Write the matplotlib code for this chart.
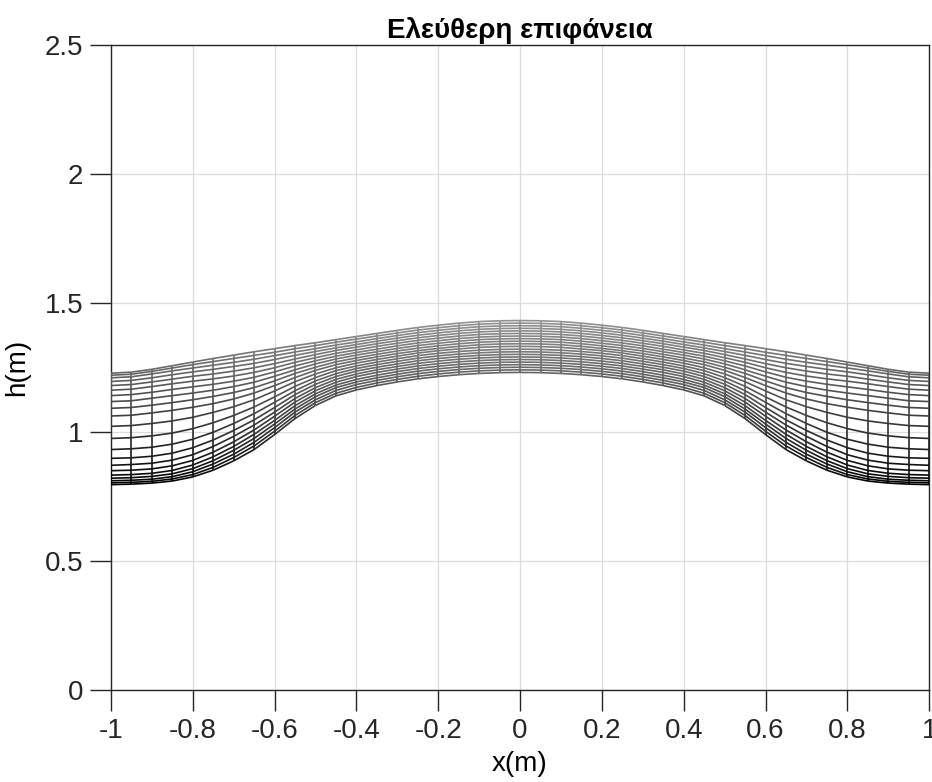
import numpy as np
import matplotlib
matplotlib.use("Agg")
import matplotlib.pyplot as plt
from matplotlib.collections import LineCollection

plt.rcParams['font.family'] = ['Liberation Sans Narrow', 'Liberation Sans', 'DejaVu Sans']
plt.rcParams['axes.unicode_minus'] = False

# x positions of the mesh columns (left half, picture is symmetric about x=0)
x_half = [-1.00, -0.95, -0.90, -0.85, -0.80, -0.75, -0.70, -0.65, -0.60, -0.55, -0.50,
          -0.45, -0.40, -0.35, -0.30, -0.25, -0.20, -0.15, -0.10, -0.05, 0.00]

# h(m) of the 21 time levels (bottom -> top) at every column of x_half
h_half = [
    [0.796, 0.803, 0.811, 0.821, 0.833, 0.850, 0.871, 0.898, 0.932, 0.975, 1.022, 1.062, 1.092, 1.118, 1.141, 1.162, 1.180, 1.196, 1.210, 1.220, 1.228],
    [0.798, 0.805, 0.813, 0.823, 0.835, 0.852, 0.874, 0.900, 0.935, 0.978, 1.025, 1.065, 1.095, 1.121, 1.145, 1.166, 1.184, 1.200, 1.214, 1.224, 1.232],
    [0.802, 0.809, 0.817, 0.828, 0.840, 0.857, 0.879, 0.906, 0.941, 0.985, 1.033, 1.074, 1.104, 1.131, 1.154, 1.176, 1.194, 1.210, 1.225, 1.235, 1.243],
    [0.810, 0.818, 0.827, 0.838, 0.851, 0.869, 0.891, 0.918, 0.953, 0.996, 1.043, 1.084, 1.114, 1.141, 1.165, 1.187, 1.205, 1.222, 1.237, 1.248, 1.257],
    [0.826, 0.835, 0.846, 0.858, 0.872, 0.890, 0.912, 0.939, 0.972, 1.013, 1.057, 1.096, 1.125, 1.151, 1.175, 1.197, 1.216, 1.233, 1.248, 1.261, 1.271],
    [0.852, 0.863, 0.876, 0.889, 0.904, 0.922, 0.944, 0.969, 0.999, 1.036, 1.076, 1.110, 1.138, 1.162, 1.185, 1.206, 1.225, 1.243, 1.259, 1.273, 1.285],
    [0.888, 0.901, 0.914, 0.929, 0.944, 0.962, 0.983, 1.006, 1.033, 1.064, 1.098, 1.128, 1.153, 1.176, 1.197, 1.217, 1.236, 1.254, 1.270, 1.285, 1.298],
    [0.932, 0.946, 0.960, 0.975, 0.991, 1.008, 1.027, 1.047, 1.071, 1.097, 1.125, 1.151, 1.172, 1.193, 1.212, 1.231, 1.249, 1.266, 1.282, 1.297, 1.311],
    [0.990, 1.003, 1.017, 1.031, 1.045, 1.061, 1.077, 1.095, 1.115, 1.136, 1.159, 1.180, 1.198, 1.216, 1.233, 1.249, 1.265, 1.281, 1.296, 1.309, 1.323],
    [1.052, 1.064, 1.077, 1.089, 1.102, 1.116, 1.130, 1.145, 1.160, 1.177, 1.195, 1.211, 1.227, 1.241, 1.256, 1.270, 1.283, 1.297, 1.310, 1.323, 1.335],
    [1.103, 1.114, 1.125, 1.137, 1.148, 1.160, 1.172, 1.185, 1.198, 1.211, 1.225, 1.239, 1.251, 1.264, 1.276, 1.288, 1.300, 1.312, 1.323, 1.335, 1.346],
    [1.140, 1.150, 1.161, 1.172, 1.182, 1.193, 1.204, 1.215, 1.226, 1.238, 1.249, 1.261, 1.272, 1.283, 1.294, 1.305, 1.316, 1.326, 1.337, 1.348, 1.358],
    [1.163, 1.173, 1.184, 1.194, 1.204, 1.215, 1.225, 1.236, 1.246, 1.256, 1.267, 1.277, 1.287, 1.298, 1.308, 1.318, 1.329, 1.339, 1.349, 1.360, 1.370],
    [1.180, 1.190, 1.200, 1.210, 1.220, 1.231, 1.241, 1.251, 1.261, 1.271, 1.281, 1.291, 1.301, 1.311, 1.321, 1.332, 1.342, 1.352, 1.362, 1.372, 1.382],
    [1.194, 1.204, 1.214, 1.224, 1.234, 1.244, 1.254, 1.264, 1.274, 1.284, 1.294, 1.304, 1.314, 1.324, 1.334, 1.344, 1.354, 1.364, 1.374, 1.384, 1.394],
    [1.206, 1.216, 1.226, 1.236, 1.246, 1.256, 1.266, 1.276, 1.286, 1.296, 1.306, 1.315, 1.325, 1.335, 1.345, 1.355, 1.365, 1.375, 1.385, 1.395, 1.405],
    [1.215, 1.225, 1.235, 1.245, 1.255, 1.265, 1.275, 1.285, 1.295, 1.305, 1.315, 1.324, 1.334, 1.344, 1.354, 1.364, 1.374, 1.384, 1.394, 1.404, 1.414],
    [1.222, 1.232, 1.242, 1.252, 1.262, 1.272, 1.282, 1.292, 1.302, 1.312, 1.322, 1.332, 1.342, 1.352, 1.362, 1.372, 1.382, 1.392, 1.402, 1.412, 1.422],
    [1.227, 1.237, 1.247, 1.257, 1.267, 1.277, 1.287, 1.297, 1.307, 1.317, 1.328, 1.338, 1.348, 1.358, 1.368, 1.378, 1.388, 1.398, 1.408, 1.418, 1.428],
    [1.230, 1.240, 1.250, 1.260, 1.270, 1.280, 1.290, 1.300, 1.310, 1.320, 1.331, 1.341, 1.351, 1.361, 1.371, 1.381, 1.391, 1.401, 1.411, 1.421, 1.431],
    [1.231, 1.241, 1.251, 1.261, 1.271, 1.281, 1.291, 1.301, 1.311, 1.321, 1.332, 1.342, 1.352, 1.362, 1.372, 1.382, 1.392, 1.402, 1.412, 1.422, 1.432],
]

x_ticks = [-1, -0.8, -0.6, -0.4, -0.2, 0, 0.2, 0.4, 0.6, 0.8, 1]
x_labels = ['-1', '-0.8', '-0.6', '-0.4', '-0.2', '0', '0.2', '0.4', '0.6', '0.8', '1']
y_ticks = [0, 0.5, 1, 1.5, 2, 2.5]
y_labels = ['0', '0.5', '1', '1.5', '2', '2.5']

# mirror the left half to get the full mesh
x = np.array(x_half + [-v for v in x_half[-2::-1]])
H = np.array(h_half + h_half[-2::-1])      # shape (n_x, n_levels)

fig = plt.figure(figsize=(9.32, 7.82), dpi=100)
ax = fig.add_axes([0.119, 0.1176, 0.878, 0.8249])

# mesh edges: curves along x and connecting lines between levels
segs = []
vals = []
nx, nl = H.shape
for k in range(nl):
    for j in range(nx - 1):
        segs.append([(x[j], H[j, k]), (x[j + 1], H[j + 1, k])])
        vals.append(0.5 * (H[j, k] + H[j + 1, k]))
for j in range(nx):
    for k in range(nl - 1):
        segs.append([(x[j], H[j, k]), (x[j], H[j, k + 1])])
        vals.append(0.5 * (H[j, k] + H[j, k + 1]))

lc = LineCollection(segs, cmap='gray', norm=plt.Normalize(0.79, 1.9),
                    linewidths=1.2, zorder=3)
lc.set_array(np.array(vals))
ax.add_collection(lc)

ax.set_xlim(-1, 1)
ax.set_ylim(0, 2.5)
ax.set_xticks(x_ticks)
ax.set_xticklabels(x_labels)
ax.set_yticks(y_ticks)
ax.set_yticklabels(y_labels)
ax.tick_params(direction='out', length=15, width=1, labelsize=20, colors='#262626', pad=5)
ax.grid(True, color='#dcdcdc', linewidth=0.9, zorder=0)
ax.set_axisbelow(True)
for s in ax.spines.values():
    s.set_color('#262626')
    s.set_linewidth(1.0)

ax.set_title('Ελεύθερη επιφάνεια', fontsize=20, fontweight='bold', pad=5)
ax.set_xlabel('x(m)', fontsize=20, labelpad=5)
ax.set_ylabel('h(m)', fontsize=20, labelpad=10)

fig.savefig('out.png', dpi=100)
